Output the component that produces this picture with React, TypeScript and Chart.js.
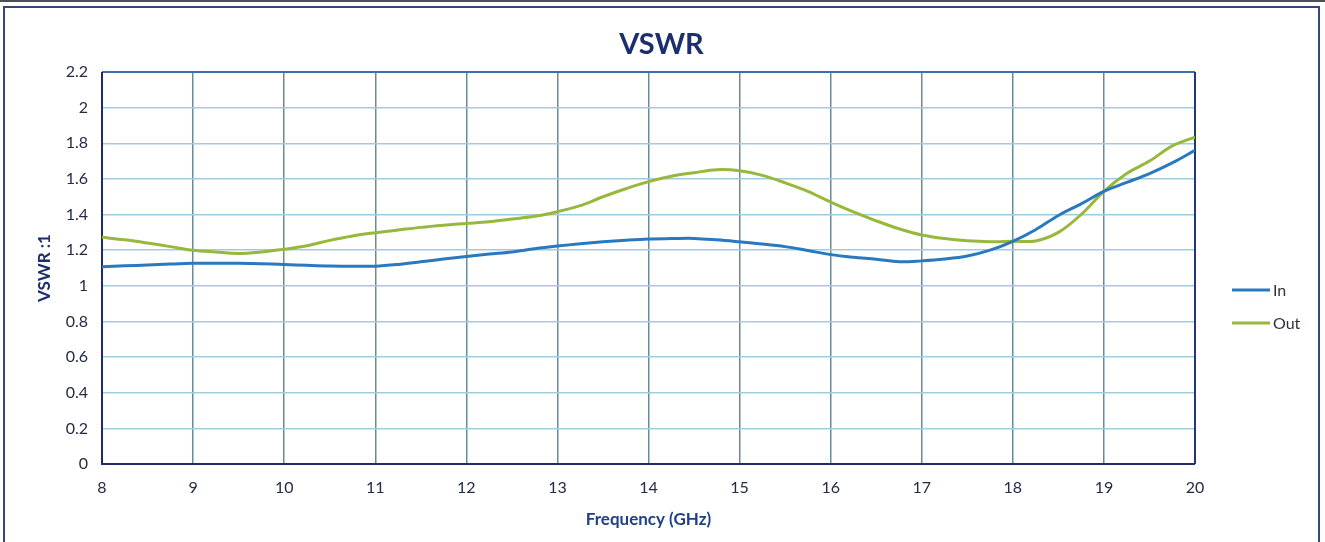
import React, { useEffect, useRef } from "react";
import { Chart, registerables } from "chart.js";

Chart.register(...registerables);

const frequencies = [
  8, 8.25, 8.5, 8.75, 9, 9.25, 9.5, 9.75, 10, 10.25, 10.5, 10.75, 11, 11.25, 11.5, 11.75,
  12, 12.25, 12.5, 12.75, 13, 13.25, 13.5, 13.75, 14, 14.25, 14.5, 14.75, 15, 15.25, 15.5, 15.75,
  16, 16.25, 16.5, 16.75, 17, 17.25, 17.5, 17.75, 18, 18.25, 18.5, 18.75, 19, 19.25, 19.5, 19.75, 20,
];

const vswrIn = [
  1.107, 1.112, 1.117, 1.122, 1.126, 1.127, 1.126, 1.124, 1.12, 1.115, 1.111, 1.11, 1.11, 1.12, 1.135, 1.15,
  1.165, 1.178, 1.19, 1.208, 1.223, 1.236, 1.247, 1.256, 1.263, 1.265, 1.266, 1.258, 1.247, 1.235, 1.22, 1.198,
  1.175, 1.16, 1.149, 1.135, 1.14, 1.15, 1.167, 1.2, 1.25, 1.315, 1.395, 1.46, 1.53, 1.58, 1.63, 1.69, 1.76,
];

const vswrOut = [
  1.272, 1.258, 1.24, 1.22, 1.2, 1.19, 1.182, 1.19, 1.205, 1.225, 1.255, 1.28, 1.298, 1.313, 1.328, 1.34,
  1.35, 1.36, 1.375, 1.39, 1.416, 1.45, 1.5, 1.545, 1.585, 1.615, 1.635, 1.652, 1.646, 1.62, 1.578, 1.53,
  1.47, 1.415, 1.365, 1.32, 1.285, 1.265, 1.253, 1.248, 1.25, 1.252, 1.3, 1.4, 1.53, 1.63, 1.7, 1.785, 1.835,
];

const seriesNames = ["In", "Out"];
const seriesColors = ["#2A78BE", "#97B83C"];

const chartTitle = "VSWR";
const xAxisTitle = "Frequency (GHz)";
const yAxisTitle = "VSWR :1";

const FONT = "Lato, 'Open Sans', sans-serif";

const plotFramePlugin = {
  id: "plotFrame",
  beforeDatasetsDraw(chart: any) {
    const { ctx, chartArea } = chart;
    const { left, right, top, bottom } = chartArea;
    ctx.save();
    ctx.lineWidth = 2;
    ctx.strokeStyle = "#3E6FA8";
    ctx.beginPath();
    ctx.moveTo(left, top);
    ctx.lineTo(right, top);
    ctx.stroke();
    ctx.strokeStyle = "#22367A";
    ctx.beginPath();
    ctx.moveTo(right, top);
    ctx.lineTo(right, bottom);
    ctx.stroke();
    ctx.strokeStyle = "#1F2C66";
    ctx.beginPath();
    ctx.moveTo(left, top);
    ctx.lineTo(left, bottom);
    ctx.lineTo(right, bottom);
    ctx.stroke();
    ctx.restore();
  },
};

const sideLegendPlugin = {
  id: "sideLegend",
  afterDraw(chart: any) {
    const { ctx, chartArea } = chart;
    ctx.save();
    ctx.font = `16px ${FONT}`;
    ctx.textBaseline = "middle";
    ctx.textAlign = "left";
    chart.data.datasets.forEach((ds: any, i: number) => {
      const y = chartArea.top + 218 + i * 33;
      const x0 = chartArea.right + 37;
      ctx.strokeStyle = ds.borderColor;
      ctx.lineWidth = 3;
      ctx.beginPath();
      ctx.moveTo(x0, y);
      ctx.lineTo(x0 + 38, y);
      ctx.stroke();
      ctx.fillStyle = "#2B3140";
      ctx.fillText(ds.label, x0 + 41, y + 1);
    });
    ctx.restore();
  },
};

export default function App() {
  const canvasRef = useRef<HTMLCanvasElement | null>(null);

  useEffect(() => {
    document.body.style.margin = "0";
    const canvas = canvasRef.current;
    if (!canvas) return;
    const datasets = [vswrIn, vswrOut].map((vals, i) => ({
      label: seriesNames[i],
      data: frequencies.map((f, j) => ({ x: f, y: vals[j] })),
      borderColor: seriesColors[i],
      backgroundColor: seriesColors[i],
      borderWidth: 3,
      pointRadius: 0,
      tension: 0.35,
      fill: false,
      yAxisID: "y",
    }));
    const chart = new Chart(canvas, {
      type: "line",
      data: { datasets },
      plugins: [plotFramePlugin, sideLegendPlugin],
      options: {
        animation: false,
        responsive: false,
        layout: { padding: 0 },
        plugins: {
          legend: { display: false },
          tooltip: { enabled: false },
          title: {
            display: true,
            text: chartTitle,
            color: "#1C2E6B",
            font: { family: FONT, size: 29, weight: "bold", lineHeight: 1.2 },
            padding: { top: 19.6, bottom: 9.6 },
          },
        },
        scales: {
          x: {
            type: "linear",
            min: 8,
            max: 20,
            ticks: {
              stepSize: 1,
              padding: 14,
              color: "#232B45",
              font: { family: FONT, size: 16 },
              callback: (v: any) => String(v),
            },
            grid: { color: "#6A8A98", lineWidth: 1.5, drawTicks: false },
            border: { display: false },
            title: {
              display: true,
              text: xAxisTitle,
              color: "#203F86",
              font: { family: FONT, size: 17, weight: "bold", lineHeight: 1.2 },
              padding: { top: 0, bottom: 11.8 },
            },
            afterFit: (scale: any) => {
              scale.height = 78;
            },
          },
          y: {
            type: "linear",
            min: 0,
            max: 2.2,
            ticks: {
              stepSize: 0.2,
              padding: 14,
              color: "#232B45",
              font: { family: FONT, size: 16 },
              callback: (v: any) => String(Number(Number(v).toFixed(1))),
            },
            grid: { color: "#9FCDE0", lineWidth: 1.5, drawTicks: false },
            border: { display: false },
            title: {
              display: true,
              text: yAxisTitle,
              color: "#1C2E6B",
              font: { family: FONT, size: 17, weight: "bold", lineHeight: 1.2 },
              padding: { top: 29.8, bottom: 0 },
            },
            afterFit: (scale: any) => {
              scale.width = 97;
            },
          },
          legendSpace: {
            type: "linear",
            position: "right",
            min: 0,
            max: 2.2,
            ticks: { display: false },
            grid: { display: false, drawTicks: false },
            border: { display: false },
            afterFit: (scale: any) => {
              scale.width = 123;
            },
          },
        },
      },
    });
    return () => chart.destroy();
  }, []);

  return (
    <div style={{ position: "absolute", left: 0, top: 0, width: 1325, height: 542, background: "#fff", overflow: "hidden" }}>
      <div style={{ position: "absolute", left: 0, top: 0, width: 1325, height: 2, background: "#4A4F5C" }} />
      <div
        style={{
          position: "absolute",
          left: 3,
          top: 6,
          width: 1313,
          height: 540,
          borderLeft: "2px solid #34467A",
          borderRight: "2px solid #34467A",
          borderTop: "2px solid #34467A",
        }}
      />
      <canvas
        ref={canvasRef}
        width={1313}
        height={534}
        style={{ position: "absolute", left: 5, top: 8, width: 1313, height: 534 }}
      />
    </div>
  );
}
